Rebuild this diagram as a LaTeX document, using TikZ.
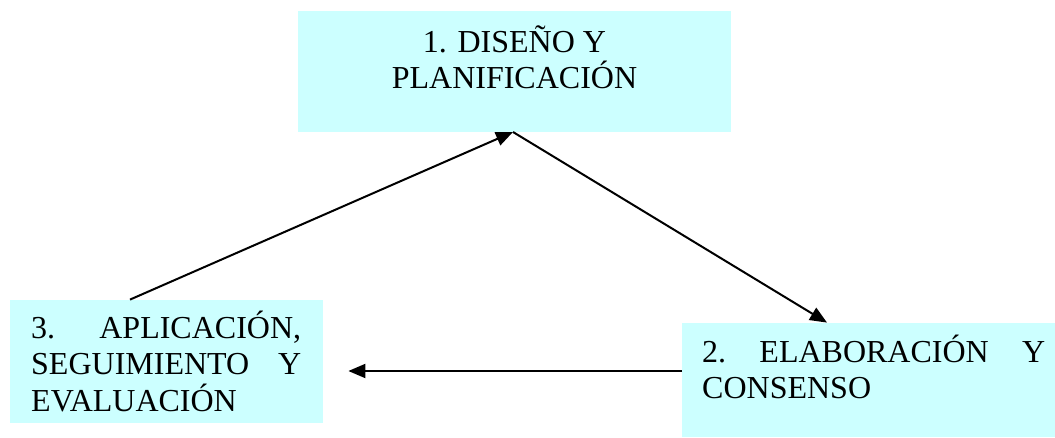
\documentclass[tikz,border=0pt]{standalone}
\usepackage{fontspec}
\setmainfont{Liberation Serif}
\usetikzlibrary{arrows.meta}
\definecolor{boxcyan}{HTML}{CCFFFF}
\tikzset{
  boxshape/.style={rectangle, fill=boxcyan, draw=none, anchor=south west, inner sep=0pt},
  boxtext/.style={inner sep=0pt, font=\fontsize{32}{36.5}\selectfont, text=black},
  conn/.style={line width=2pt, draw=black},
  connarr/.style={conn, -{Triangle[length=17pt,width=14pt]}}
}
\newcommand{\topstrut}{\rule{0pt}{30pt}}
\begin{document}
\begin{tikzpicture}[x=1pt,y=1pt]
\useasboundingbox (0,0) rectangle (1055,437);
% boxes
\node[boxshape, minimum width=433pt, minimum height=121pt] (tbox) at (298,305) {};
\node[boxshape, minimum width=313pt, minimum height=123pt] (lbox) at (10,14) {};
\node[boxshape, minimum width=373pt, minimum height=114pt] (rbox) at (682,0) {};
% texts
\node[boxtext, anchor=north, align=center] (ttext) at (514.5,415) {\topstrut 1. DISEÑO Y\\PLANIFICACIÓN};
\node[boxtext, anchor=north west, align=left, text width=270pt] (ltext) at (31,129) {\topstrut 3.\hfill APLICACIÓN,\\SEGUIMIENTO\hfill Y\\EVALUACIÓN};
\node[boxtext, anchor=north west, align=left, text width=343pt] (rtext) at (702,105) {\topstrut 2.\hfill ELABORACIÓN\hfill Y\\CONSENSO};
% connectors
\draw[connarr] ([xshift=120pt]lbox.north west) -- ([xshift=215pt]tbox.south west);
\draw[connarr] ([xshift=215pt]tbox.south west) -- ([xshift=145pt]rbox.north west);
\draw[connarr] ([yshift=66pt]rbox.south west) -- ([xshift=25pt,yshift=52pt]lbox.south east);
\end{tikzpicture}
\end{document}
